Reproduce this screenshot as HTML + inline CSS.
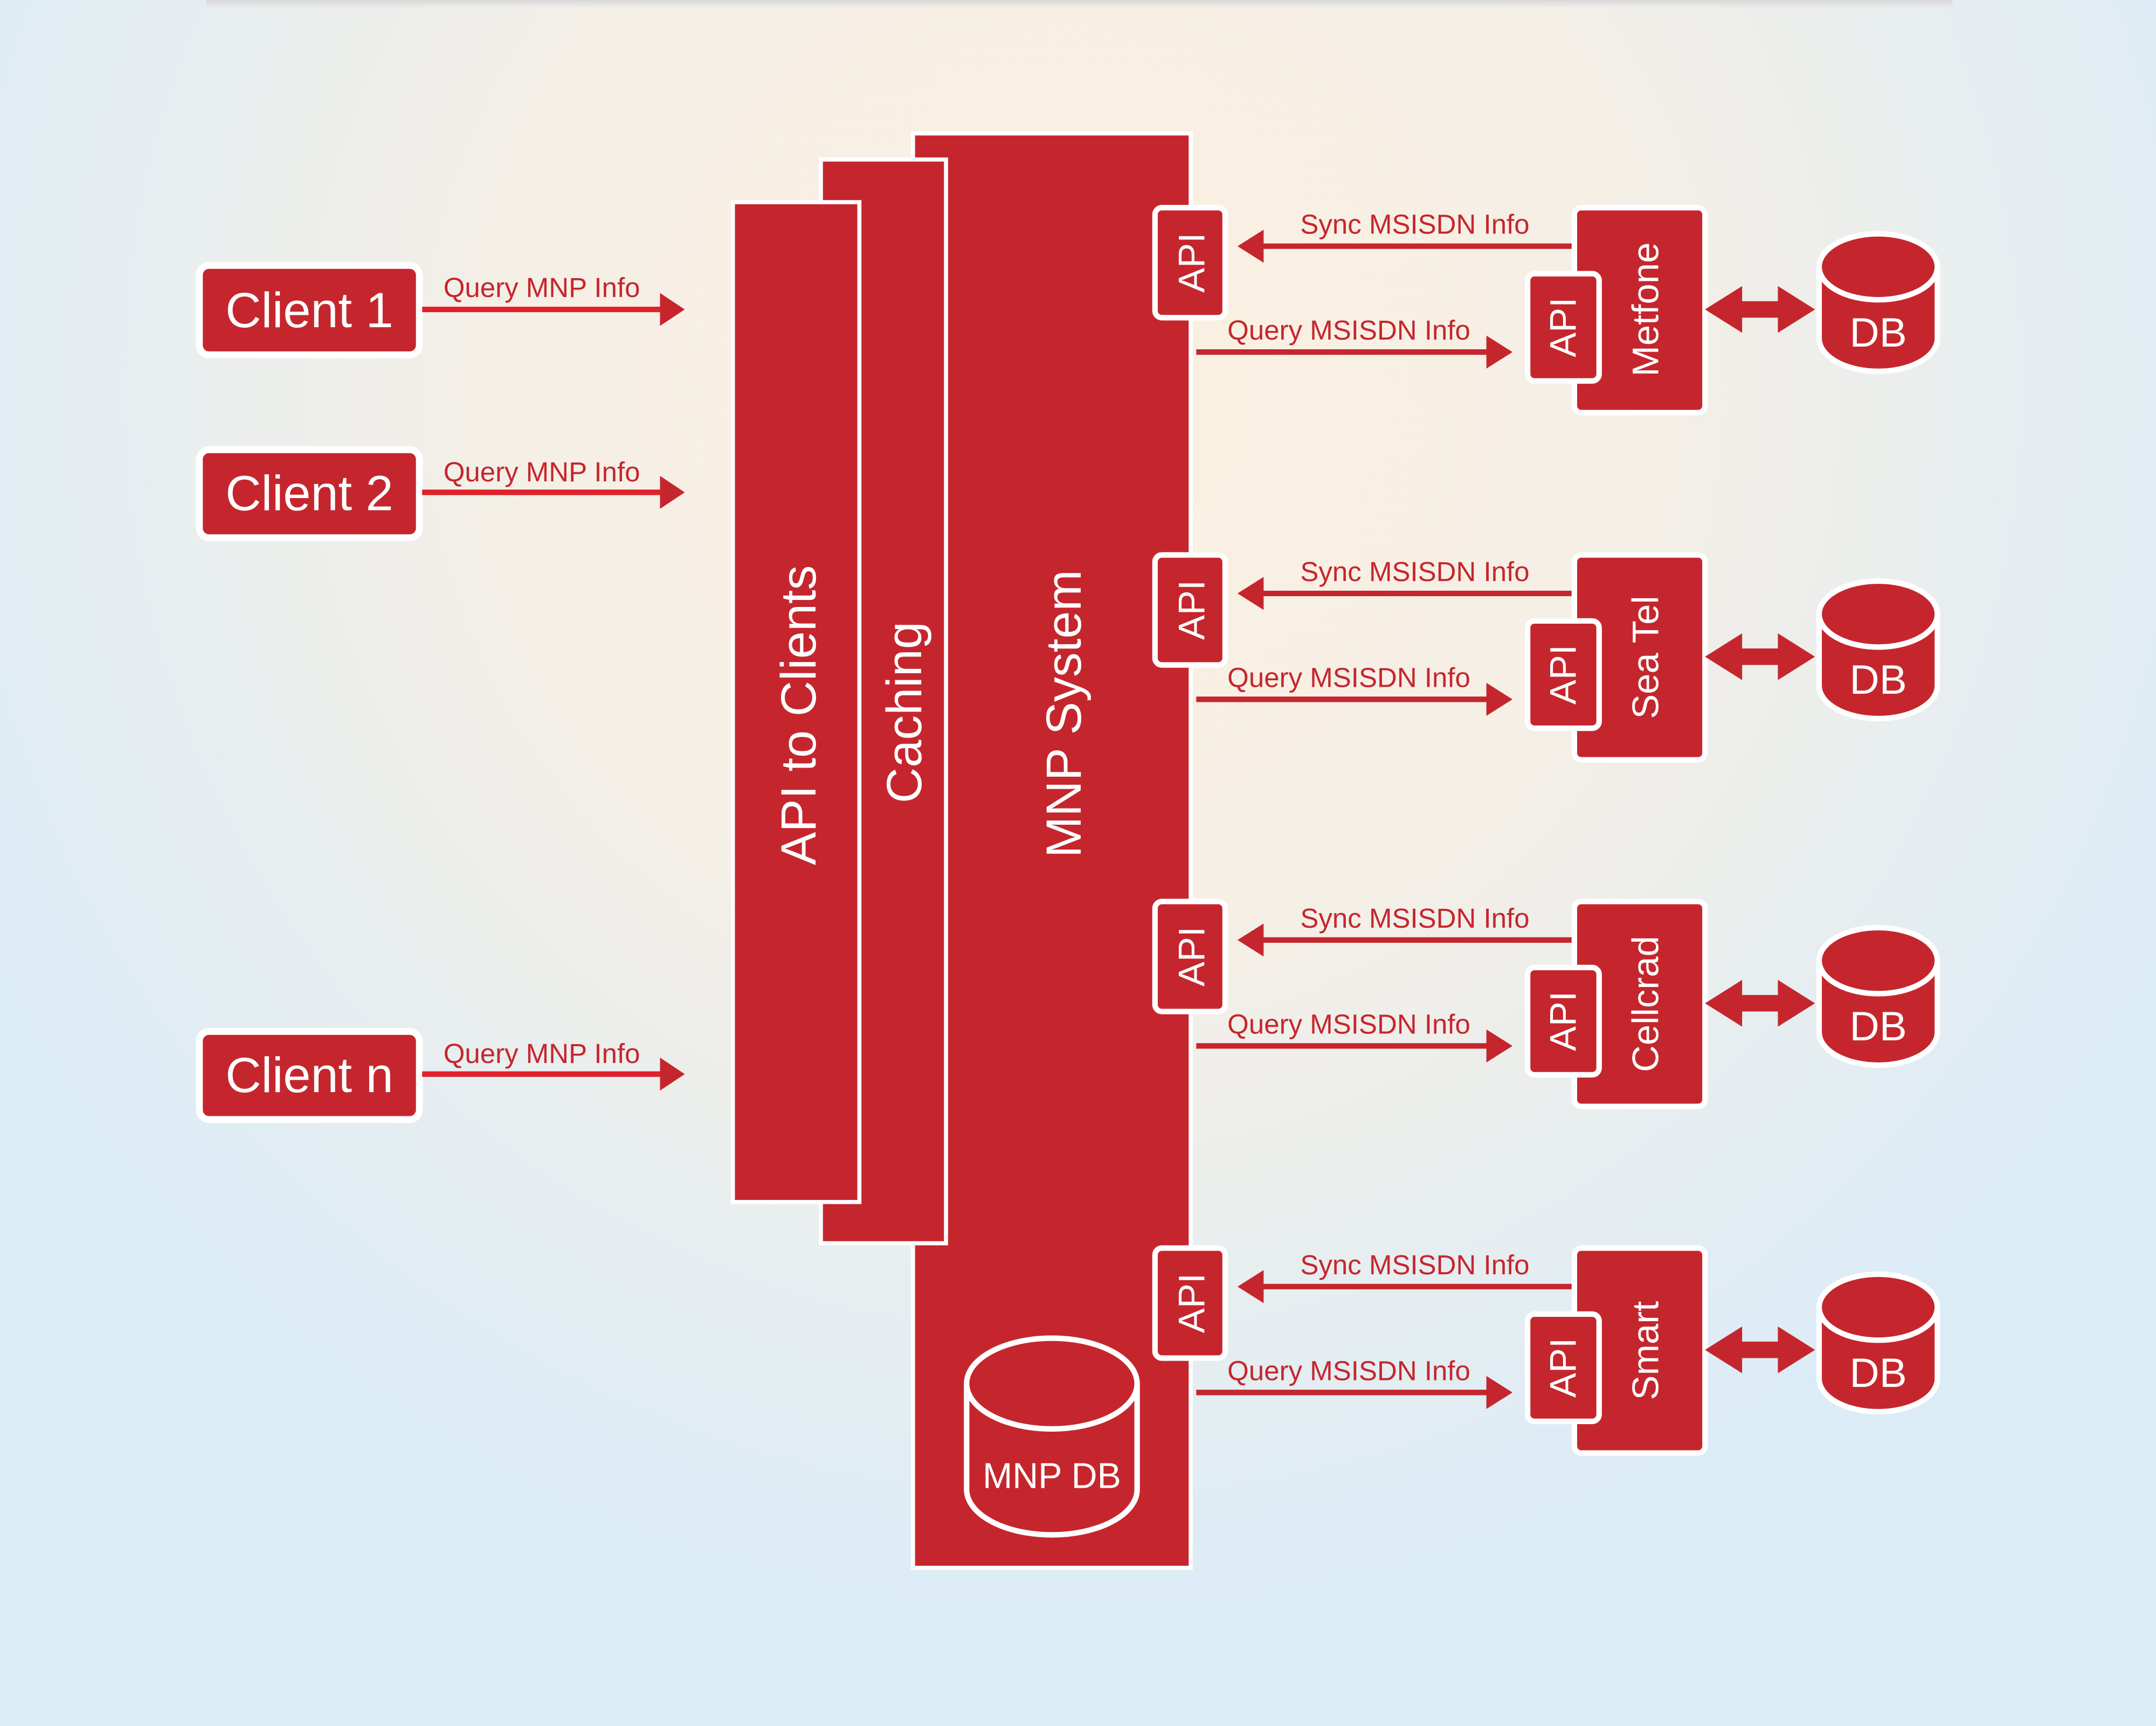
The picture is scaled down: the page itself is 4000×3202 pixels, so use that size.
<!DOCTYPE html>
<html><head><meta charset="utf-8"><style>
html,body{margin:0;padding:0;width:4000px;height:3202px;overflow:hidden}
svg{display:block}
text{font-family:"Liberation Sans",sans-serif}
</style></head><body>
<svg width="4000" height="3202" viewBox="0 0 1568 1255" preserveAspectRatio="none" xmlns="http://www.w3.org/2000/svg">
<defs>
<radialGradient id="bg" cx="780" cy="280" r="900" gradientUnits="userSpaceOnUse">
<stop offset="0" stop-color="#fcf0e1"/><stop offset="0.45" stop-color="#f5efe6"/><stop offset="1" stop-color="#dcecf7"/>
</radialGradient>
<linearGradient id="sh" x1="0" y1="0" x2="0" y2="1"><stop offset="0" stop-color="#d8d8d8"/><stop offset="1" stop-color="#d8d8d8" stop-opacity="0"/></linearGradient>
<g id="prov">
 <rect x="840" y="151" width="51" height="80" rx="5" fill="#c5262d" stroke="#fff" stroke-width="4"/>
 <text transform="translate(876,191) rotate(-90)" font-size="27" fill="#fff" text-anchor="middle">API</text>
 <line x1="1145" y1="179" x2="915" y2="179" stroke="#c5262d" stroke-width="4"/>
 <polygon points="900,179 919,167 919,191" fill="#c5262d"/>
 <text x="1029" y="170" font-size="20" fill="#c5262d" text-anchor="middle">Sync MSISDN Info</text>
 <line x1="870" y1="256" x2="1084" y2="256" stroke="#c5262d" stroke-width="4"/>
 <polygon points="1100,256 1081,244 1081,268" fill="#c5262d"/>
 <text x="981" y="247" font-size="20" fill="#c5262d" text-anchor="middle">Query MSISDN Info</text>
 <rect x="1145" y="151" width="95" height="149" rx="5" fill="#c5262d" stroke="#fff" stroke-width="4"/>
 <rect x="1111" y="199" width="52" height="78" rx="5" fill="#c5262d" stroke="#fff" stroke-width="4"/>
 <text transform="translate(1146,238) rotate(-90)" font-size="27" fill="#fff" text-anchor="middle">API</text>
 <polygon points="1240,225 1267,208 1267,219 1293,219 1293,208 1320,225 1293,242 1293,231 1267,231 1267,242" fill="#c5262d"/>
 <path d="M1323,194 A43,24 0 0 1 1409,194 L1409,246 A43,24 0 0 1 1323,246 Z" fill="#c5262d" stroke="#fff" stroke-width="4"/>
 <path d="M1323,194 A43,24 0 0 0 1409,194" fill="none" stroke="#fff" stroke-width="4"/>
 <text x="1366" y="252" font-size="30" fill="#fff" text-anchor="middle">DB</text>
</g>
</defs>
<rect width="1568" height="1255" fill="url(#bg)"/>
<rect x="150" y="0" width="1270" height="6" fill="url(#sh)"/>

<!-- clients -->
<g>
 <rect x="145" y="193" width="160" height="65" rx="7" fill="#c5262d" stroke="#fff" stroke-width="5"/>
 <text x="225" y="238" font-size="36" fill="#fff" text-anchor="middle">Client 1</text>
 <line x1="307" y1="225" x2="482" y2="225" stroke="#e0202a" stroke-width="4"/>
 <polygon points="498,225 480,213 480,237" fill="#c5262d"/>
 <text x="394" y="216" font-size="20" fill="#c5262d" text-anchor="middle">Query MNP Info</text>

 <rect x="145" y="327" width="160" height="64" rx="7" fill="#c5262d" stroke="#fff" stroke-width="5"/>
 <text x="225" y="371" font-size="36" fill="#fff" text-anchor="middle">Client 2</text>
 <line x1="307" y1="358" x2="482" y2="358" stroke="#e0202a" stroke-width="4"/>
 <polygon points="498,358 480,346 480,370" fill="#c5262d"/>
 <text x="394" y="350" font-size="20" fill="#c5262d" text-anchor="middle">Query MNP Info</text>

 <rect x="145" y="750" width="160" height="64" rx="7" fill="#c5262d" stroke="#fff" stroke-width="5"/>
 <text x="225" y="794" font-size="36" fill="#fff" text-anchor="middle">Client n</text>
 <line x1="307" y1="781" x2="482" y2="781" stroke="#e0202a" stroke-width="4"/>
 <polygon points="498,781 480,769 480,793" fill="#c5262d"/>
 <text x="394" y="773" font-size="20" fill="#c5262d" text-anchor="middle">Query MNP Info</text>
</g>

<!-- central stack -->
<rect x="664" y="97" width="202" height="1043" fill="#c5262d" stroke="#fff" stroke-width="3"/>
<rect x="597" y="116" width="91" height="788" fill="#c5262d" stroke="#fff" stroke-width="3"/>
<rect x="533" y="147" width="92" height="727" fill="#c5262d" stroke="#fff" stroke-width="3"/>
<text transform="translate(593,520) rotate(-90)" font-size="36" fill="#fff" text-anchor="middle">API to Clients</text>
<text transform="translate(670,518) rotate(-90)" font-size="36" fill="#fff" text-anchor="middle">Caching</text>
<text transform="translate(786,519) rotate(-90)" font-size="36" fill="#fff" text-anchor="middle">MNP System</text>

<path d="M703,1006 A62,33 0 0 1 827,1006 L827,1083 A62,33 0 0 1 703,1083 Z" fill="#c5262d" stroke="#fff" stroke-width="4"/>
<path d="M703,1006 A62,33 0 0 0 827,1006" fill="none" stroke="#fff" stroke-width="4"/>
<text x="765" y="1082" font-size="26" fill="#fff" text-anchor="middle">MNP DB</text>

<use href="#prov"/>
<text transform="translate(1206,225) rotate(-90)" font-size="27" fill="#fff" text-anchor="middle">Metfone</text>
<use href="#prov" transform="translate(0,252.5)"/>
<text transform="translate(1206,478) rotate(-90)" font-size="27" fill="#fff" text-anchor="middle">Sea Tel</text>
<use href="#prov" transform="translate(0,504.5)"/>
<text transform="translate(1206,730) rotate(-90)" font-size="27" fill="#fff" text-anchor="middle">Cellcrad</text>
<use href="#prov" transform="translate(0,756.5)"/>
<text transform="translate(1206,982) rotate(-90)" font-size="27" fill="#fff" text-anchor="middle">Smart</text>
</svg>
</body></html>
